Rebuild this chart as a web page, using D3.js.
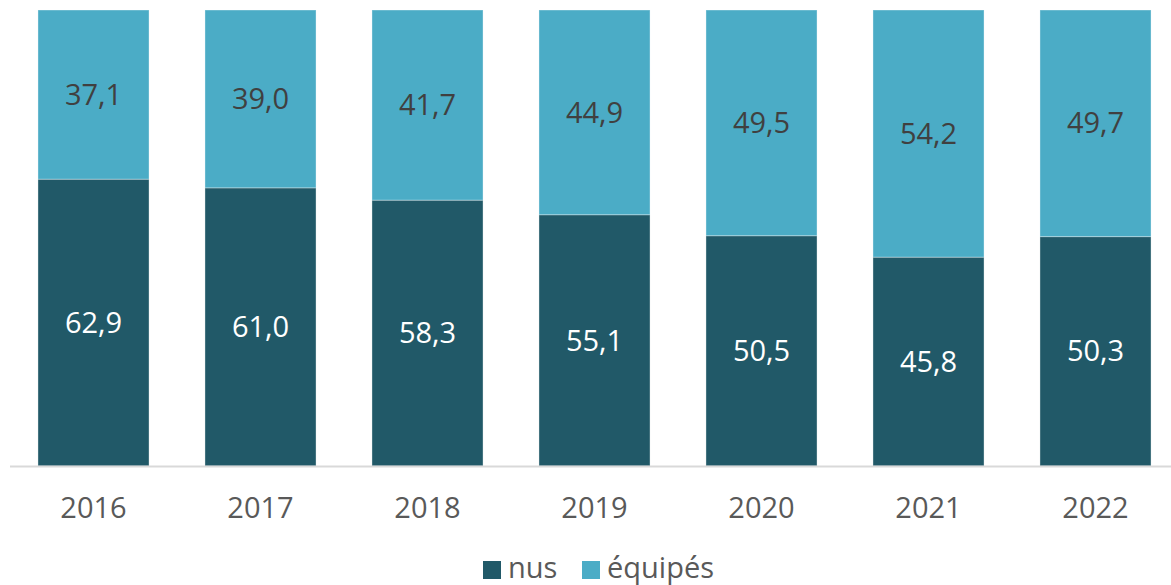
<!DOCTYPE html>
<html><head><meta charset="utf-8">
<script src="https://cdn.jsdelivr.net/npm/d3@7"></script>
<style>body{margin:0;background:#fff}svg{display:block}</style>
</head><body>
<svg id="c" width="1171" height="585"></svg>
<script>
const years = ["2016","2017","2018","2019","2020","2021","2022"];
const nus = [62.9, 61.0, 58.3, 55.1, 50.5, 45.8, 50.3];
const equipes = [37.1, 39.0, 41.7, 44.9, 49.5, 54.2, 49.7];
const seriesNames = ["nus", "équipés"];
const colors = ["#215968", "#4BACC6"];

const font = "'Open Sans', 'Noto Sans', sans-serif";
const svg = d3.select("#c");
const x = d3.scaleBand().domain(years).range([10, 1179]).paddingInner(0.335).paddingOuter(0.1675);
const y = d3.scaleLinear().domain([0, 100]).range([466, 10]);

const rows = years.map((yr, i) => ({year: yr, nus: nus[i], equipes: equipes[i]}));
const stack = d3.stack().keys(["nus", "equipes"])(rows);

stack.forEach((layer, li) => {
  svg.append("g").selectAll("rect").data(layer).join("rect")
    .attr("x", d => x(d.data.year))
    .attr("width", x.bandwidth())
    .attr("y", d => y(d[1]))
    .attr("height", d => y(d[0]) - y(d[1]))
    .attr("fill", colors[li])
    .attr("stroke", "#ffffff").attr("stroke-opacity", 0.35).attr("stroke-width", 1);
  svg.append("g").selectAll("text").data(layer).join("text")
    .attr("x", d => x(d.data.year) + x.bandwidth() / 2)
    .attr("y", d => (y(d[0]) + y(d[1])) / 2)
    .attr("dy", "0.35em")
    .attr("text-anchor", "middle")
    .attr("font-family", font).attr("font-size", 29)
    .attr("fill", li === 0 ? "#ffffff" : "#404040")
    .text(d => d3.format(".1f")(d[1] - d[0]).replace(".", ","));
});

// axis line
svg.append("line").attr("x1", 10).attr("x2", 1171).attr("y1", 466.5).attr("y2", 466.5)
  .attr("stroke", "#d9d9d9").attr("stroke-width", 2);

const xa = d3.axisBottom(x).tickSize(0).tickPadding(0);
const gx = svg.append("g").attr("transform", "translate(0,466)").call(xa);
gx.select(".domain").remove();
gx.selectAll("text").attr("font-family", font).attr("font-size", 29).attr("fill", "#595959")
  .attr("y", 42).attr("dy", "0.35em");

// legend
const leg = svg.append("g");
const legX = [483, 582];
seriesNames.forEach((n, i) => {
  leg.append("rect").attr("x", legX[i]).attr("y", 561).attr("width", 18).attr("height", 18).attr("fill", colors[i]);
  leg.append("text").attr("x", legX[i] + 25).attr("y", 578)
    .attr("font-family", font).attr("font-size", 29).attr("fill", "#595959").text(n);
});
</script>
</body></html>
